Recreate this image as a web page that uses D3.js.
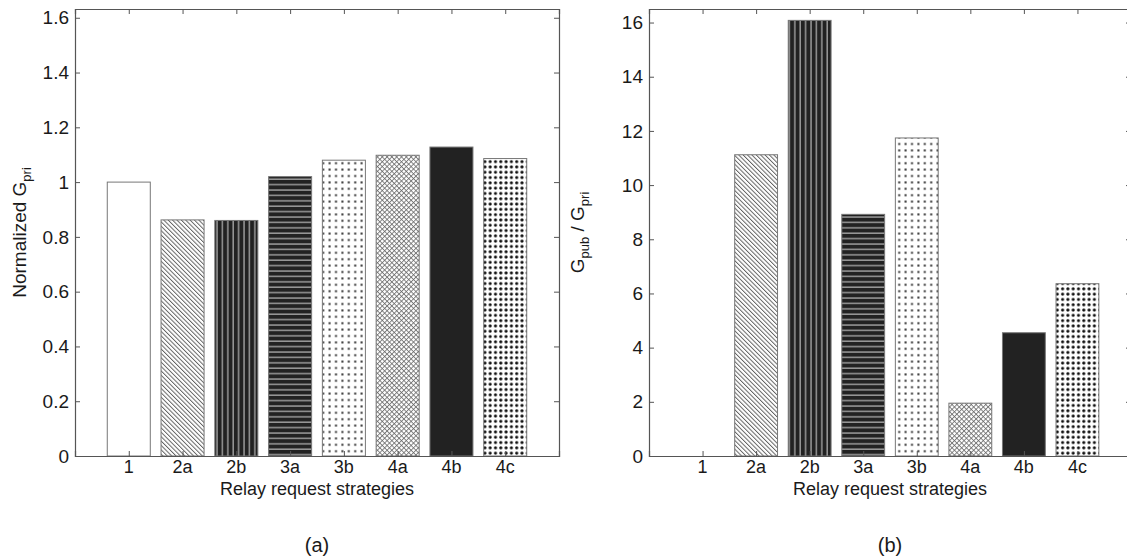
<!DOCTYPE html>
<html>
<head>
<meta charset="utf-8">
<script src="https://cdn.jsdelivr.net/npm/d3@7"></script>
<style>
  body { margin: 0; background: #fff; }
  svg { display: block; font-family: "Liberation Sans", Arial, sans-serif; }
</style>
</head>
<body>
<svg id="chart" width="1127" height="560"></svg>
<script>
const width = 1127;
const height = 560;

// data
const categories = ['1', '2a', '2b', '3a', '3b', '4a', '4b', '4c'];
const patterns   = ['blank', 'diag', 'vert', 'horiz', 'dots', 'cross', 'solid', 'bigdots'];
const normalizedGpri = [1.0, 0.862, 0.860, 1.020, 1.080, 1.098, 1.128, 1.086];
const gpubOverGpri   = [0, 11.12, 16.08, 8.92, 11.74, 1.95, 4.55, 6.36];
const ticksA = [0, 0.2, 0.4, 0.6, 0.8, 1, 1.2, 1.4, 1.6];
const ticksB = [0, 2, 4, 6, 8, 10, 12, 14, 16];

const axisColor = '#555';
const textColor = '#1a1a1a';

const svg = d3.select('#chart');
const defs = svg.append('defs');

// fill patterns
function pattern(id, w, h, bg, transform) {
    const p = defs.append('pattern')
                  .attr('id', id)
                  .attr('patternUnits', 'userSpaceOnUse')
                  .attr('width', w)
                  .attr('height', h);
    if (transform) p.attr('patternTransform', transform);
    p.append('rect').attr('width', w).attr('height', h).attr('fill', bg);
    return p;
}

pattern('diag', 3.1, 3.1, '#fff', 'rotate(-45)')
    .append('line').attr('x1', 0.5).attr('y1', 0).attr('x2', 0.5).attr('y2', 3.1)
    .attr('stroke', '#555').attr('stroke-width', 0.9);

pattern('vert', 5.4, 4, '#222')
    .append('line').attr('x1', 1).attr('y1', 0).attr('x2', 1).attr('y2', 4)
    .attr('stroke', '#c4c4c4').attr('stroke-width', 1.1);

pattern('horiz', 4, 5.4, '#222')
    .append('line').attr('x1', 0).attr('y1', 1).attr('x2', 4).attr('y2', 1)
    .attr('stroke', '#c4c4c4').attr('stroke-width', 1.1);

pattern('dots', 6.4, 6.4, '#fff')
    .append('rect').attr('x', 2.2).attr('y', 2.2).attr('width', 2).attr('height', 2)
    .attr('fill', '#333');

const cross = pattern('cross', 3.4, 3.4, '#fff', 'rotate(45)');
cross.append('line').attr('x1', 0.5).attr('y1', 0).attr('x2', 0.5).attr('y2', 3.4)
     .attr('stroke', '#666').attr('stroke-width', 0.8);
cross.append('line').attr('x1', 0).attr('y1', 0.5).attr('x2', 3.4).attr('y2', 0.5)
     .attr('stroke', '#666').attr('stroke-width', 0.8);

pattern('bigdots', 5.3, 5.3, '#fff')
    .append('circle').attr('cx', 2.6).attr('cy', 2.6).attr('r', 1.6)
    .attr('fill', '#111');

function fillFor(name) {
    if (name === 'blank') return '#fff';
    if (name === 'solid') return '#222';
    return 'url(#' + name + ')';
}

function drawPanel(opts) {
    const x = d3.scaleLinear().domain([0, 9]).range([opts.left, opts.right]);
    const y = d3.scaleLinear().domain([0, opts.ymax]).range([opts.bottom, opts.top]);
    const g = svg.append('g');

    // bars
    g.selectAll('rect.bar')
     .data(opts.values.map(function(v, i) { return {v: v, i: i}; })
                      .filter(function(d) { return d.v > 0; }))
     .join('rect')
     .attr('class', 'bar')
     .attr('x', function(d) { return x(d.i + 1 - 0.4); })
     .attr('width', function(d) { return x(0.8) - x(0); })
     .attr('y', function(d) { return y(d.v); })
     .attr('height', function(d) { return y(0) - y(d.v); })
     .attr('fill', function(d) { return fillFor(patterns[d.i]); })
     .attr('stroke', '#777')
     .attr('stroke-width', 1);

    // axes (MATLAB box style, inward ticks)
    const yLeft = d3.axisRight(y).tickValues(opts.ticks).tickSize(5).tickFormat('');
    const yRight = d3.axisLeft(y).tickValues(opts.ticks).tickSize(5).tickFormat('');
    const xBottom = d3.axisTop(x).tickValues(d3.range(1, 9)).tickSize(5).tickFormat('');
    const xTop = d3.axisBottom(x).tickValues(d3.range(1, 9)).tickSize(5).tickFormat('');

    const axes = [
        g.append('g').attr('transform', 'translate(' + opts.left + ',0)').call(yLeft),
        g.append('g').attr('transform', 'translate(' + opts.right + ',0)').call(yRight),
        g.append('g').attr('transform', 'translate(0,' + opts.bottom + ')').call(xBottom),
        g.append('g').attr('transform', 'translate(0,' + opts.top + ')').call(xTop)
    ];
    axes.forEach(function(a) {
        a.selectAll('path').attr('stroke', axisColor).attr('stroke-width', 1.2);
        a.selectAll('line').attr('stroke', axisColor).attr('stroke-width', 1);
    });

    // tick labels
    g.selectAll('text.ylab')
     .data(opts.ticks)
     .join('text')
     .attr('class', 'ylab')
     .attr('x', opts.left - 6)
     .attr('y', function(d) { return y(d); })
     .attr('dy', '0.35em')
     .attr('text-anchor', 'end')
     .attr('font-size', 19)
     .attr('fill', textColor)
     .text(function(d) { return d3.format('')(d); });

    g.selectAll('text.xlab')
     .data(categories)
     .join('text')
     .attr('class', 'xlab')
     .attr('x', function(d, i) { return x(i + 1); })
     .attr('y', opts.bottom + 11)
     .attr('dy', '0.35em')
     .attr('text-anchor', 'middle')
     .attr('font-size', 18)
     .attr('fill', textColor)
     .text(function(d) { return d; });

    const cx = (x(0) + x(9)) / 2;
    g.append('text')
     .attr('x', cx)
     .attr('y', opts.bottom + 33)
     .attr('dy', '0.35em')
     .attr('text-anchor', 'middle')
     .attr('font-size', 18)
     .attr('fill', textColor)
     .text('Relay request strategies');

    g.append('text')
     .attr('x', cx)
     .attr('y', 545)
     .attr('dy', '0.35em')
     .attr('text-anchor', 'middle')
     .attr('font-size', 20)
     .attr('fill', textColor)
     .text(opts.caption);

    // y label
    const yl = g.append('text')
                .attr('transform', 'translate(' + opts.ylabelX + ',' + ((opts.top + opts.bottom) / 2) + ') rotate(-90)')
                .attr('text-anchor', 'middle')
                .attr('font-size', 19)
                .attr('fill', textColor);
    opts.ylabel.forEach(function(part) {
        const t = yl.append('tspan').text(part.text);
        if (part.sub) t.attr('font-size', 13).attr('dy', 5);
        else if (part.after) t.attr('dy', -5);
    });
}

drawPanel({
    left: 75, right: 559, top: 9, bottom: 456, ymax: 1.632,
    values: normalizedGpri, ticks: ticksA, caption: '(a)', ylabelX: 26,
    ylabel: [{text: 'Normalized G'}, {text: 'pri', sub: true}]
});

drawPanel({
    left: 649, right: 1131, top: 9, bottom: 456, ymax: 16.5,
    values: gpubOverGpri, ticks: ticksB, caption: '(b)', ylabelX: 584,
    ylabel: [{text: 'G'}, {text: 'pub', sub: true}, {text: ' / G', after: true},
             {text: 'pri', sub: true}]
});
</script>
</body>
</html>
